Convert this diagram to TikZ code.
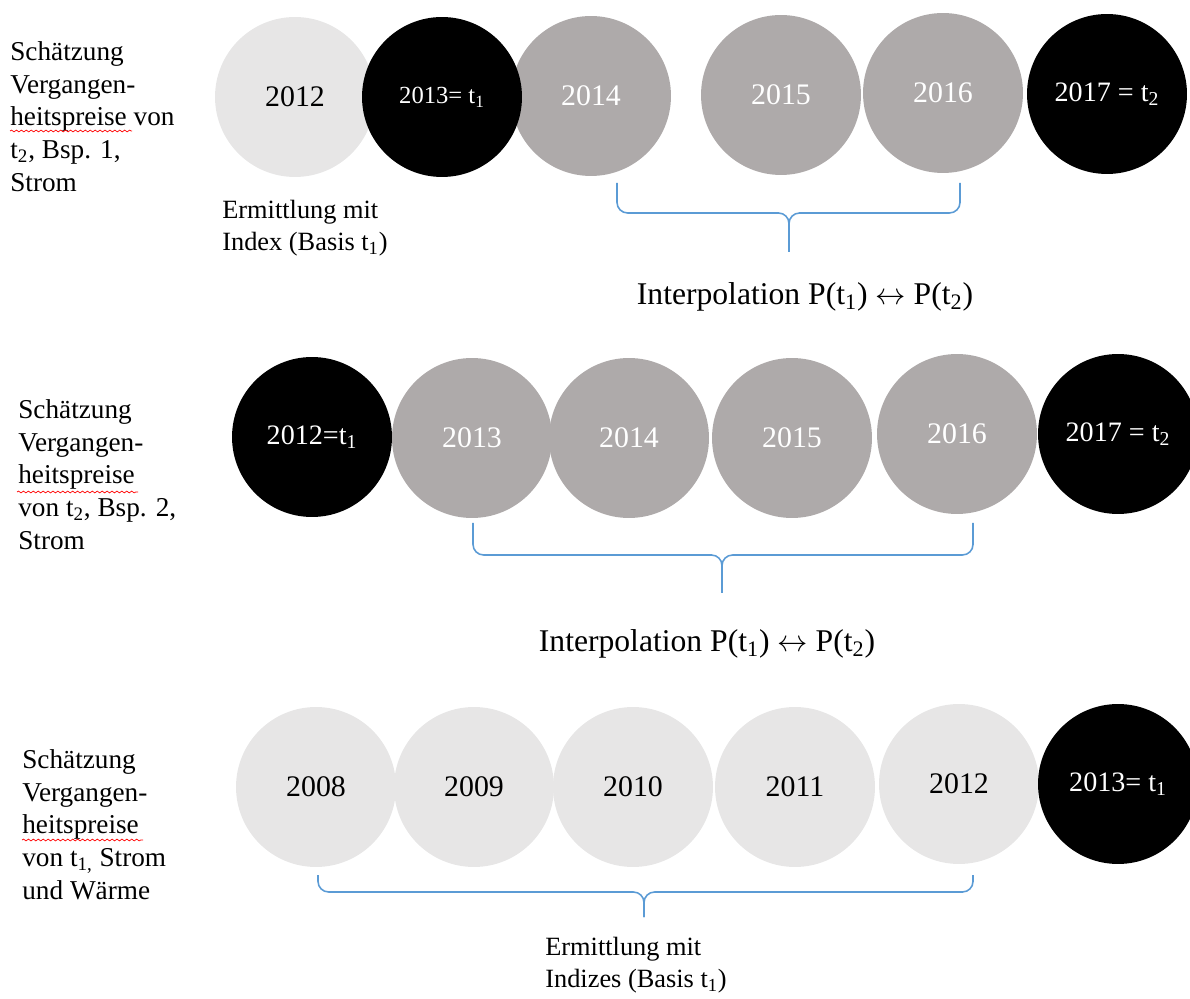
\documentclass[tikz,border=0pt]{standalone}
\usepackage{fontspec}
\setmainfont{Liberation Serif}
\usetikzlibrary{decorations.pathmorphing}

\definecolor{lightgrey}{HTML}{E7E6E6}
\definecolor{midgrey}{HTML}{AEAAAA}
\definecolor{braceblue}{HTML}{5B9BD5}

\begin{document}
\begin{tikzpicture}[x=0.02cm, y=-0.02cm,
  yr/.style={circle, minimum size=3.2cm, inner sep=0pt, font=\fontsize{17}{20}\selectfont},
  light/.style={yr, fill=lightgrey, text=black},
  mid/.style={yr, fill=midgrey, text=white},
  dark/.style={yr, fill=black, text=white},
  side/.style={anchor=north west, inner sep=0pt, align=left, font=\fontsize{15.5}{18.7}\selectfont},
  note/.style={anchor=north west, inner sep=0pt, align=left, font=\fontsize{15}{18.2}\selectfont},
  interp/.style={anchor=base, inner sep=0pt, font=\fontsize{18}{21}\selectfont},
  brace/.style={draw=braceblue, line width=0.9pt, rounded corners=6pt},
  spell/.style={red, line width=0.4pt, decorate, decoration={snake, amplitude=0.5pt, segment length=2.8pt}}]
\useasboundingbox (0,0) rectangle (1190,999);

% Bsp. 1
\node[light] (a2012) at (295,97) {2012};
\node[mid] (a2014) at (591,96) {2014};
\node[mid] (a2015) at (781,95) {2015};
\node[mid] (a2016) at (943,93) {2016};
\node[dark, font=\fontsize{14}{17}\selectfont] (a2013) at (442,97) {2013= t\textsubscript{1}};
\node[dark, font=\fontsize{16}{19}\selectfont] (a2017) at (1107,94) {2017 = t\textsubscript{2}};
\node[side] (atext) at (10,41) {Schätzung\\Vergangen-\\heitspreise von\\t\textsubscript{2}, Bsp. 1,\\Strom};
\draw[spell] (10,131) -- (132,131);
\node[note] (aindex) at (222,200) {Ermittlung mit\\Index (Basis t\textsubscript{1})};
\draw[brace] (617,183) -- (617,213) -- (789,213) -- (789,252);
\draw[brace] (960,183) -- (960,213) -- (789,213) -- (789,252);
\node[interp] (ainterp) at (805,305) {Interpolation P(t\textsubscript{1}) $\leftrightarrow$ P(t\textsubscript{2})};

% Bsp. 2
\node[mid] (b2013) at (472,438) {2013};
\node[mid] (b2014) at (629,438) {2014};
\node[mid] (b2015) at (792,438) {2015};
\node[mid] (b2016) at (957,434) {2016};
\node[dark, font=\fontsize{16}{19}\selectfont] (b2012) at (312,437) {2012=t\textsubscript{1}};
\node[dark, font=\fontsize{16}{19}\selectfont] (b2017) at (1118,434) {2017 = t\textsubscript{2}};
\node[side] (btext) at (18,399) {Schätzung\\Vergangen-\\heitspreise\\von t\textsubscript{2}, Bsp. 2,\\Strom};
\draw[spell] (17,492) -- (138,492);
\draw[brace] (473,523) -- (473,555) -- (722,555) -- (722,593);
\draw[brace] (973,523) -- (973,555) -- (722,555) -- (722,593);
\node[interp] (binterp) at (707,652) {Interpolation P(t\textsubscript{1}) $\leftrightarrow$ P(t\textsubscript{2})};

% t1, Strom und Waerme
\node[light] (c2008) at (316,787) {2008};
\node[light] (c2009) at (474,787) {2009};
\node[light] (c2010) at (633,787) {2010};
\node[light] (c2011) at (795,787) {2011};
\node[light] (c2012) at (959,784) {2012};
\node[dark, font=\fontsize{16}{19}\selectfont] (c2013) at (1118,784) {2013= t\textsubscript{1}};
\node[side] (ctext) at (22,749) {Schätzung\\Vergangen-\\heitspreise\\von t\textsubscript{1,} Strom\\und Wärme};
\draw[spell] (22,840) -- (143,840);
\draw[brace] (318,875) -- (318,892) -- (644,892) -- (644,917);
\draw[brace] (973,875) -- (973,892) -- (644,892) -- (644,917);
\node[note] (cindex) at (545,937) {Ermittlung mit\\Indizes (Basis t\textsubscript{1})};
\end{tikzpicture}
\end{document}
